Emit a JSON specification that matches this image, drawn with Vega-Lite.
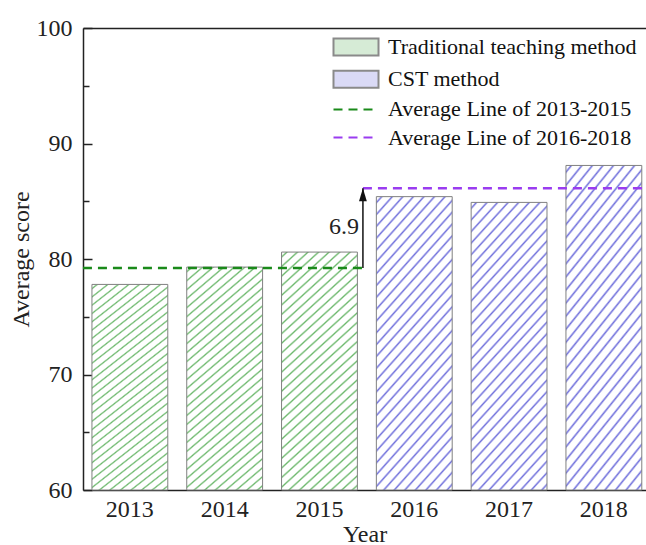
{
"$schema": "https://vega.github.io/schema/vega-lite/v6.json",
"width": 563, "height": 462,
"autosize": {"type": "none"},
"padding": {"left": 83, "top": 28, "right": 0, "bottom": 55},
"background": "white",
"datasets": {
"scores": [
{"year": "2013", "score": 77.8, "method": "Traditional teaching method"},
{"year": "2014", "score": 79.3, "method": "Traditional teaching method"},
{"year": "2015", "score": 80.6, "method": "Traditional teaching method"},
{"year": "2016", "score": 85.4, "method": "CST method"},
{"year": "2017", "score": 84.9, "method": "CST method"},
{"year": "2018", "score": 88.1, "method": "CST method"}
],
"avg": [
{"series": "Average Line of 2013-2015", "value": 79.23, "start": "2013", "end": "2015"},
{"series": "Average Line of 2016-2018", "value": 86.13, "start": "2016", "end": "2018"}
],
"arrow": [
{"at": "2015", "from": 79.23, "to": 86.13, "label": "6.9"}
],
"legendrows": []
},
"layer": [
{
"data": {"name": "scores"},
"transform": [{"filter": "datum.method === 'Traditional teaching method'"}],
"mark": {"type": "bar", "stroke": "#808080", "strokeWidth": 1, "fill": {"gradient": "linear", "x1": 0, "y1": 0, "x2": 0.345, "y2": 1.19, "stops": [
{"offset": 0.01, "color": "#fff"}, {"offset": 0.016, "color": "#6cb86c"}, {"offset": 0.022, "color": "#fff"},
{"offset": 0.04125, "color": "#fff"}, {"offset": 0.04725, "color": "#6cb86c"}, {"offset": 0.05325, "color": "#fff"},
{"offset": 0.0725, "color": "#fff"}, {"offset": 0.0785, "color": "#6cb86c"}, {"offset": 0.0845, "color": "#fff"},
{"offset": 0.10375, "color": "#fff"}, {"offset": 0.10975, "color": "#6cb86c"}, {"offset": 0.11575, "color": "#fff"},
{"offset": 0.135, "color": "#fff"}, {"offset": 0.141, "color": "#6cb86c"}, {"offset": 0.147, "color": "#fff"},
{"offset": 0.16625, "color": "#fff"}, {"offset": 0.17225, "color": "#6cb86c"}, {"offset": 0.17825, "color": "#fff"},
{"offset": 0.1975, "color": "#fff"}, {"offset": 0.2035, "color": "#6cb86c"}, {"offset": 0.2095, "color": "#fff"},
{"offset": 0.22875, "color": "#fff"}, {"offset": 0.23475, "color": "#6cb86c"}, {"offset": 0.24075, "color": "#fff"},
{"offset": 0.26, "color": "#fff"}, {"offset": 0.266, "color": "#6cb86c"}, {"offset": 0.272, "color": "#fff"},
{"offset": 0.29125, "color": "#fff"}, {"offset": 0.29725, "color": "#6cb86c"}, {"offset": 0.30325, "color": "#fff"},
{"offset": 0.3225, "color": "#fff"}, {"offset": 0.3285, "color": "#6cb86c"}, {"offset": 0.3345, "color": "#fff"},
{"offset": 0.35375, "color": "#fff"}, {"offset": 0.35975, "color": "#6cb86c"}, {"offset": 0.36575, "color": "#fff"},
{"offset": 0.385, "color": "#fff"}, {"offset": 0.391, "color": "#6cb86c"}, {"offset": 0.397, "color": "#fff"},
{"offset": 0.41625, "color": "#fff"}, {"offset": 0.42225, "color": "#6cb86c"}, {"offset": 0.42825, "color": "#fff"},
{"offset": 0.4475, "color": "#fff"}, {"offset": 0.4535, "color": "#6cb86c"}, {"offset": 0.4595, "color": "#fff"},
{"offset": 0.47875, "color": "#fff"}, {"offset": 0.48475, "color": "#6cb86c"}, {"offset": 0.49075, "color": "#fff"},
{"offset": 0.51, "color": "#fff"}, {"offset": 0.516, "color": "#6cb86c"}, {"offset": 0.522, "color": "#fff"},
{"offset": 0.54125, "color": "#fff"}, {"offset": 0.54725, "color": "#6cb86c"}, {"offset": 0.55325, "color": "#fff"},
{"offset": 0.5725, "color": "#fff"}, {"offset": 0.5785, "color": "#6cb86c"}, {"offset": 0.5845, "color": "#fff"},
{"offset": 0.60375, "color": "#fff"}, {"offset": 0.60975, "color": "#6cb86c"}, {"offset": 0.61575, "color": "#fff"},
{"offset": 0.635, "color": "#fff"}, {"offset": 0.641, "color": "#6cb86c"}, {"offset": 0.647, "color": "#fff"},
{"offset": 0.66625, "color": "#fff"}, {"offset": 0.67225, "color": "#6cb86c"}, {"offset": 0.67825, "color": "#fff"},
{"offset": 0.6975, "color": "#fff"}, {"offset": 0.7035, "color": "#6cb86c"}, {"offset": 0.7095, "color": "#fff"},
{"offset": 0.72875, "color": "#fff"}, {"offset": 0.73475, "color": "#6cb86c"}, {"offset": 0.74075, "color": "#fff"},
{"offset": 0.76, "color": "#fff"}, {"offset": 0.766, "color": "#6cb86c"}, {"offset": 0.772, "color": "#fff"},
{"offset": 0.79125, "color": "#fff"}, {"offset": 0.79725, "color": "#6cb86c"}, {"offset": 0.80325, "color": "#fff"},
{"offset": 0.8225, "color": "#fff"}, {"offset": 0.8285, "color": "#6cb86c"}, {"offset": 0.8345, "color": "#fff"},
{"offset": 0.85375, "color": "#fff"}, {"offset": 0.85975, "color": "#6cb86c"}, {"offset": 0.86575, "color": "#fff"},
{"offset": 0.885, "color": "#fff"}, {"offset": 0.891, "color": "#6cb86c"}, {"offset": 0.897, "color": "#fff"},
{"offset": 0.91625, "color": "#fff"}, {"offset": 0.92225, "color": "#6cb86c"}, {"offset": 0.92825, "color": "#fff"},
{"offset": 0.9475, "color": "#fff"}, {"offset": 0.9535, "color": "#6cb86c"}, {"offset": 0.9595, "color": "#fff"},
{"offset": 0.97875, "color": "#fff"}, {"offset": 0.98475, "color": "#6cb86c"}, {"offset": 0.99075, "color": "#fff"}
]}},
"encoding": {
"x": {"field": "year", "type": "nominal", "scale": {"paddingInner": 0.2, "paddingOuter": 0.0694, "align": 0.68},
"axis": {"orient": "bottom", "title": "Year", "ticks": false, "labelAngle": 0, "labelPadding": 7, "titlePadding": 1, "labelFont": "Liberation Serif", "titleFont": "Liberation Serif"}},
"y": {"field": "score", "type": "quantitative", "scale": {"domain": [60, 100], "nice": false, "zero": false},
"axis": {"orient": "left", "title": "Average score", "ticks": false, "values": [60, 70, 80, 90, 100], "labelPadding": 11, "titlePadding": 3, "labelFont": "Liberation Serif", "titleFont": "Liberation Serif"}},
"y2": {"datum": 60}
}
},
{
"data": {"name": "scores"},
"transform": [{"filter": "datum.method === 'CST method'"}],
"mark": {"type": "bar", "stroke": "#808080", "strokeWidth": 1, "fill": {"gradient": "linear", "x1": 0, "y1": 0, "x2": 0.345, "y2": 1.19, "stops": [
{"offset": 0.01, "color": "#fff"}, {"offset": 0.016, "color": "#7272dc"}, {"offset": 0.022, "color": "#fff"},
{"offset": 0.04125, "color": "#fff"}, {"offset": 0.04725, "color": "#7272dc"}, {"offset": 0.05325, "color": "#fff"},
{"offset": 0.0725, "color": "#fff"}, {"offset": 0.0785, "color": "#7272dc"}, {"offset": 0.0845, "color": "#fff"},
{"offset": 0.10375, "color": "#fff"}, {"offset": 0.10975, "color": "#7272dc"}, {"offset": 0.11575, "color": "#fff"},
{"offset": 0.135, "color": "#fff"}, {"offset": 0.141, "color": "#7272dc"}, {"offset": 0.147, "color": "#fff"},
{"offset": 0.16625, "color": "#fff"}, {"offset": 0.17225, "color": "#7272dc"}, {"offset": 0.17825, "color": "#fff"},
{"offset": 0.1975, "color": "#fff"}, {"offset": 0.2035, "color": "#7272dc"}, {"offset": 0.2095, "color": "#fff"},
{"offset": 0.22875, "color": "#fff"}, {"offset": 0.23475, "color": "#7272dc"}, {"offset": 0.24075, "color": "#fff"},
{"offset": 0.26, "color": "#fff"}, {"offset": 0.266, "color": "#7272dc"}, {"offset": 0.272, "color": "#fff"},
{"offset": 0.29125, "color": "#fff"}, {"offset": 0.29725, "color": "#7272dc"}, {"offset": 0.30325, "color": "#fff"},
{"offset": 0.3225, "color": "#fff"}, {"offset": 0.3285, "color": "#7272dc"}, {"offset": 0.3345, "color": "#fff"},
{"offset": 0.35375, "color": "#fff"}, {"offset": 0.35975, "color": "#7272dc"}, {"offset": 0.36575, "color": "#fff"},
{"offset": 0.385, "color": "#fff"}, {"offset": 0.391, "color": "#7272dc"}, {"offset": 0.397, "color": "#fff"},
{"offset": 0.41625, "color": "#fff"}, {"offset": 0.42225, "color": "#7272dc"}, {"offset": 0.42825, "color": "#fff"},
{"offset": 0.4475, "color": "#fff"}, {"offset": 0.4535, "color": "#7272dc"}, {"offset": 0.4595, "color": "#fff"},
{"offset": 0.47875, "color": "#fff"}, {"offset": 0.48475, "color": "#7272dc"}, {"offset": 0.49075, "color": "#fff"},
{"offset": 0.51, "color": "#fff"}, {"offset": 0.516, "color": "#7272dc"}, {"offset": 0.522, "color": "#fff"},
{"offset": 0.54125, "color": "#fff"}, {"offset": 0.54725, "color": "#7272dc"}, {"offset": 0.55325, "color": "#fff"},
{"offset": 0.5725, "color": "#fff"}, {"offset": 0.5785, "color": "#7272dc"}, {"offset": 0.5845, "color": "#fff"},
{"offset": 0.60375, "color": "#fff"}, {"offset": 0.60975, "color": "#7272dc"}, {"offset": 0.61575, "color": "#fff"},
{"offset": 0.635, "color": "#fff"}, {"offset": 0.641, "color": "#7272dc"}, {"offset": 0.647, "color": "#fff"},
{"offset": 0.66625, "color": "#fff"}, {"offset": 0.67225, "color": "#7272dc"}, {"offset": 0.67825, "color": "#fff"},
{"offset": 0.6975, "color": "#fff"}, {"offset": 0.7035, "color": "#7272dc"}, {"offset": 0.7095, "color": "#fff"},
{"offset": 0.72875, "color": "#fff"}, {"offset": 0.73475, "color": "#7272dc"}, {"offset": 0.74075, "color": "#fff"},
{"offset": 0.76, "color": "#fff"}, {"offset": 0.766, "color": "#7272dc"}, {"offset": 0.772, "color": "#fff"},
{"offset": 0.79125, "color": "#fff"}, {"offset": 0.79725, "color": "#7272dc"}, {"offset": 0.80325, "color": "#fff"},
{"offset": 0.8225, "color": "#fff"}, {"offset": 0.8285, "color": "#7272dc"}, {"offset": 0.8345, "color": "#fff"},
{"offset": 0.85375, "color": "#fff"}, {"offset": 0.85975, "color": "#7272dc"}, {"offset": 0.86575, "color": "#fff"},
{"offset": 0.885, "color": "#fff"}, {"offset": 0.891, "color": "#7272dc"}, {"offset": 0.897, "color": "#fff"},
{"offset": 0.91625, "color": "#fff"}, {"offset": 0.92225, "color": "#7272dc"}, {"offset": 0.92825, "color": "#fff"},
{"offset": 0.9475, "color": "#fff"}, {"offset": 0.9535, "color": "#7272dc"}, {"offset": 0.9595, "color": "#fff"},
{"offset": 0.97875, "color": "#fff"}, {"offset": 0.98475, "color": "#7272dc"}, {"offset": 0.99075, "color": "#fff"}
]}},
"encoding": {
"x": {"field": "year", "type": "nominal",
"axis": {"orient": "top", "offset": -462, "labels": false, "ticks": true, "tickSize": 8, "domain": false, "title": null}},
"y": {"field": "score", "type": "quantitative",
"axis": {"orient": "right", "offset": -563, "labels": false, "ticks": true, "tickSize": 9, "domain": false, "title": null, "values": [60, 70, 80, 90, 100]}},
"y2": {"datum": 60}
}
},
{
"data": {"name": "avg"},
"transform": [{"filter": "datum.series === 'Average Line of 2013-2015'"}],
"mark": {"type": "rule", "strokeDash": [9, 6], "strokeWidth": 2.5, "color": "#1a8a1a"},
"encoding": {
"x": {"field": "start", "type": "nominal", "bandPosition": -0.1187,
"axis": {"orient": "top", "labels": false, "ticks": false, "domain": true, "title": null}},
"x2": {"field": "end", "bandPosition": 1.073},
"y": {"field": "value", "type": "quantitative",
"axis": {"orient": "right", "offset": -563, "labels": false, "ticks": true, "tickSize": 6, "domain": false, "title": null, "values": [65, 75, 85, 95]}}
}
},
{
"data": {"name": "avg"},
"transform": [{"filter": "datum.series === 'Average Line of 2016-2018'"}],
"mark": {"type": "rule", "strokeDash": [9, 6], "strokeWidth": 2.5, "color": "#9a3cf0"},
"encoding": {
"x": {"field": "start", "type": "nominal", "bandPosition": -0.177, "axis": null},
"x2": {"field": "end", "bandPosition": 1.055},
"y": {"field": "value", "type": "quantitative", "axis": null}
}
},
{
"data": {"name": "arrow"},
"mark": {"type": "rule", "color": "#111", "strokeWidth": 1.5},
"encoding": {
"x": {"field": "at", "type": "nominal", "bandPosition": 1.073, "axis": null},
"y": {"field": "from", "type": "quantitative", "axis": null},
"y2": {"field": "to"}
}
},
{
"data": {"name": "arrow"},
"mark": {"type": "point", "shape": "M0,-1L0.6,1L-0.6,1Z", "filled": true, "color": "#111", "opacity": 1, "size": 169, "yOffset": 6.5},
"encoding": {
"x": {"field": "at", "type": "nominal", "bandPosition": 1.073, "axis": null},
"y": {"field": "to", "type": "quantitative", "axis": null}
}
},
{
"data": {"name": "arrow"},
"mark": {"type": "text", "align": "right", "baseline": "middle", "dx": -4, "dy": -41, "font": "Liberation Serif", "fontSize": 24, "color": "#222"},
"encoding": {
"x": {"field": "at", "type": "nominal", "bandPosition": 1.073, "axis": null},
"y": {"field": "from", "type": "quantitative", "axis": null},
"text": {"field": "label"}
}
},
{
"data": {"name": "legendrows"},
"mark": {"type": "point", "opacity": 1, "size": 289},
"encoding": {
"fill": {"field": "series", "type": "nominal",
"scale": {"domain": ["Traditional teaching method", "CST method", "Average Line of 2013-2015", "Average Line of 2016-2018"], "range": ["#d6ebd6", "#dadaf6", "transparent", "transparent"]},
"legend": {"orient": "none", "legendX": 250, "legendY": 8, "title": null}},
"stroke": {"field": "series", "type": "nominal",
"scale": {"domain": ["Traditional teaching method", "CST method", "Average Line of 2013-2015", "Average Line of 2016-2018"], "range": ["#8a8a8a", "#8a8a8a", "#1a8a1a", "#9a3cf0"]},
"legend": {"orient": "none", "legendX": 250, "legendY": 8, "title": null}},
"shape": {"field": "series", "type": "nominal",
"scale": {"domain": ["Traditional teaching method", "CST method", "Average Line of 2013-2015", "Average Line of 2016-2018"], "range": ["M-1.235,-1H4.06V1H-1.235Z", "M-1.235,-1H4.06V1H-1.235Z", "M-1.235,0H4.06", "M-1.235,0H4.06"]},
"legend": {"orient": "none", "legendX": 250, "legendY": 8, "title": null}},
"strokeDash": {"field": "series", "type": "nominal",
"scale": {"domain": ["Traditional teaching method", "CST method", "Average Line of 2013-2015", "Average Line of 2016-2018"], "range": [[1, 0], [1, 0], [9, 6], [9, 6]]},
"legend": {"orient": "none", "legendX": 250, "legendY": 8, "title": null}}
}
}
],
"resolve": {"axis": {"x": "independent", "y": "independent"}},
"config": {
"view": {"stroke": null},
"axis": {"grid": false, "domainColor": "#222", "domainWidth": 1.5, "tickColor": "#222", "tickWidth": 1.5,
"labelFont": "Liberation Serif", "labelFontSize": 24, "labelColor": "#222",
"titleFont": "Liberation Serif", "titleFontSize": 24, "titleFontWeight": "normal", "titleColor": "#222"},
"legend": {"labelFont": "Liberation Serif", "labelFontSize": 22, "labelColor": "#111", "symbolSize": 289, "symbolStrokeWidth": 2, "symbolOpacity": 1, "rowPadding": 6.2, "padding": 0, "labelOffset": 33, "labelLimit": 400}
}
}
